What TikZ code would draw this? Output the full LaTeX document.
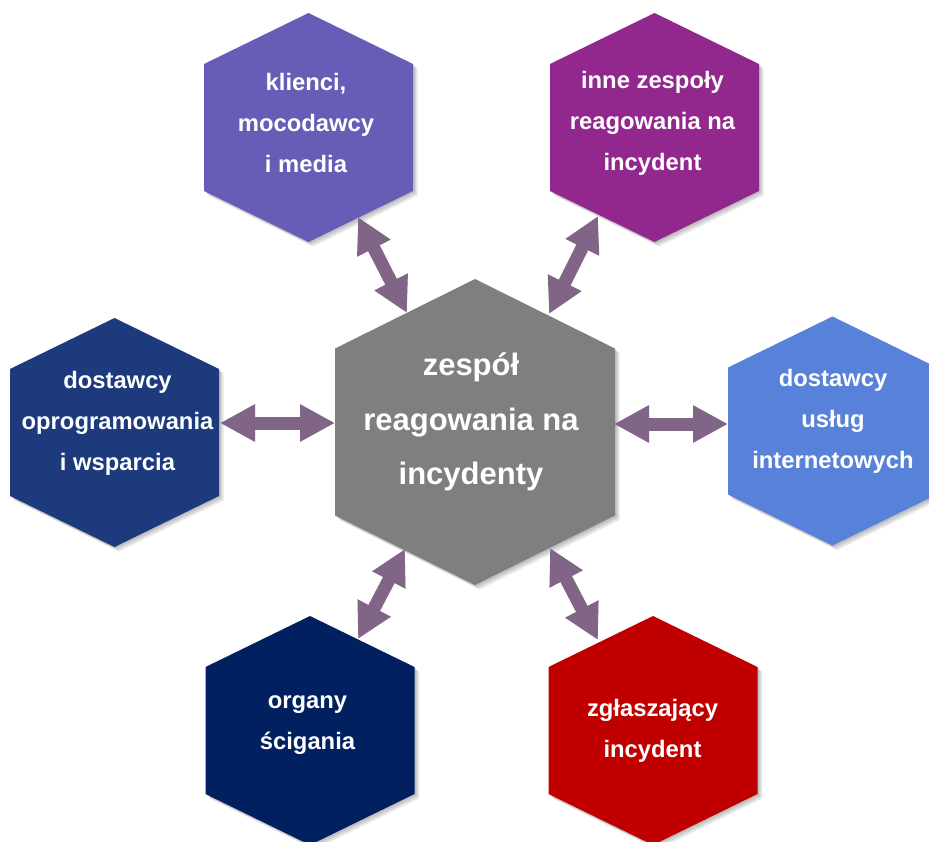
\documentclass[tikz,border=0pt]{standalone}
\usepackage{fontspec}
\setmainfont{Liberation Sans}
\usetikzlibrary{arrows.meta,calc}
\definecolor{cKlienci}{RGB}{103,93,183}
\definecolor{cInne}{RGB}{146,40,142}
\definecolor{cOprog}{RGB}{28,58,124}
\definecolor{cUslug}{RGB}{88,130,218}
\definecolor{cOrgany}{RGB}{0,32,96}
\definecolor{cZglasz}{RGB}{192,0,0}
\definecolor{cCenter}{RGB}{127,127,127}
\definecolor{cArrow}{RGB}{128,101,134}
\newcommand{\hexpath}[5]{(#1,#2-#5) -- (#1+#3,#2-#4) -- (#1+#3,#2+#4) -- (#1,#2+#5) -- (#1-#3,#2+#4) -- (#1-#3,#2-#4) -- cycle}
\newcommand{\hexa}[6]{%
  \foreach \s in {1.5,3,4.5}{\fill[black,opacity=0.09,shift={(\s,\s)}] \hexpath{#1}{#2}{#3}{#4}{#5};}
  \fill[#6] \hexpath{#1}{#2}{#3}{#4}{#5};}
\tikzset{
  smalltext/.style={text=white,font=\bfseries\fontsize{23.8}{41}\selectfont,align=center,inner sep=0pt},
  bigtext/.style={text=white,font=\bfseries\fontsize{31}{54.5}\selectfont,align=center,inner sep=0pt},
  conn/.style={draw=cArrow,line width=13pt,{Triangle[width=35pt,length=35pt]}-{Triangle[width=35pt,length=35pt]}},
  connshadow/.style={draw=black,opacity=0.1,line width=13pt,{Triangle[width=35pt,length=35pt]}-{Triangle[width=35pt,length=35pt]}}
}
\begin{document}
\begin{tikzpicture}[x=1pt,y=-1pt]
\useasboundingbox (0,0) rectangle (929,841);
% hexagons
\hexa{308.5}{127.5}{104.5}{63.5}{114.5}{cKlienci}
\hexa{654.5}{127.5}{104.5}{63.5}{114.5}{cInne}
\hexa{114.5}{432.5}{104.5}{63.5}{114.5}{cOprog}
\hexa{832.5}{431}{104.5}{63.5}{114.5}{cUslug}
\hexa{310}{730.5}{104.5}{63.5}{114.5}{cOrgany}
\hexa{653}{730.5}{104.5}{63.5}{114.5}{cZglasz}
\hexa{475}{432}{140}{83.5}{153}{cCenter}
% texts
\node[smalltext] (klienci) at (306,123) {klienci,\\mocodawcy\\i media};
\node[smalltext] (inne) at (652.5,123) {inne zespoły\\reagowania na\\incydent};
\node[smalltext] (oprog) at (117.5,423) {dostawcy\\oprogramowania\\i wsparcia};
\node[smalltext] (uslug) at (833,421) {dostawcy\\usług\\internetowych};
\node[smalltext] (organy) at (307.5,725) {organy\\ścigania};
\node[smalltext] (zglasz) at (652.5,731) {zgłaszający\\incydent};
\node[bigtext] (zespol) at (471,422) {zespół\\reagowania na\\incydenty};
% connector end points
\coordinate (klienci-e) at (358,217);
\coordinate (zespol-nw) at (407,313);
\coordinate (inne-e) at (598,216);
\coordinate (zespol-ne) at (549,314);
\coordinate (oprog-e) at (220,423);
\coordinate (zespol-w) at (335,423);
\coordinate (uslug-e) at (728,424);
\coordinate (zespol-e) at (614,424);
\coordinate (organy-e) at (358,639);
\coordinate (zespol-sw) at (405,549);
\coordinate (zglasz-e) at (598,640);
\coordinate (zespol-se) at (550,548);
% connectors
\foreach \a/\b in {klienci-e/zespol-nw,inne-e/zespol-ne,oprog-e/zespol-w,uslug-e/zespol-e,organy-e/zespol-sw,zglasz-e/zespol-se}{
  \draw[connshadow,shift={(3,3)}] (\a) -- (\b);
  \draw[conn] (\a) -- (\b);
}
\end{tikzpicture}
\end{document}
